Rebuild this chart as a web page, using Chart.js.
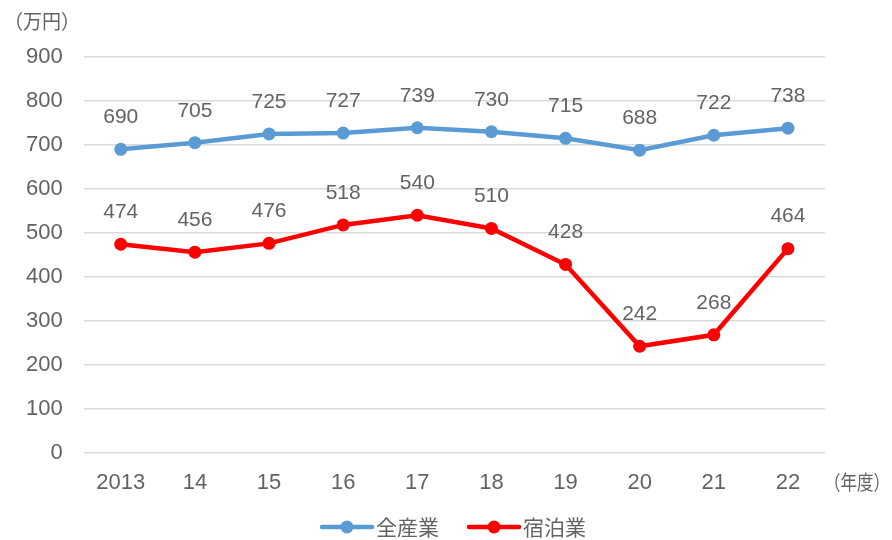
<!DOCTYPE html>
<html><head><meta charset="utf-8">
<script src="https://cdn.jsdelivr.net/npm/chart.js@4/dist/chart.umd.min.js"></script>
<style>html,body{margin:0;padding:0;background:#fff}#wrap{width:892px;height:540px}</style>
</head><body><div id="wrap"><canvas id="c" width="892" height="540"></canvas></div>
<script>
const categories = ['2013','14','15','16','17','18','19','20','21','22'];
const allIndustry = [690,705,725,727,739,730,715,688,722,738];
const lodging = [474,456,476,518,540,510,428,242,268,464];
const yTicks = [0,100,200,300,400,500,600,700,800,900];
const seriesNames = ['全産業','宿泊業'];
const colors = ['#5B9BD5','#FF0000'];
const NUMFONT = "'Liberation Sans', Arial, sans-serif";
const CJKFONT = "'Noto Sans CJK JP', sans-serif";
const TXT = '#636363';

const labelPlugin={id:'vals',afterDatasetsDraw(chart){
  const ctx=chart.ctx;ctx.save();
  ctx.font="21px "+NUMFONT;ctx.fillStyle=TXT;ctx.textAlign='center';ctx.textBaseline='middle';
  chart.data.datasets.forEach((ds,i)=>{
    chart.getDatasetMeta(i).data.forEach((pt,j)=>{
      ctx.fillText(String(ds.data[j]),pt.x,pt.y-32);
    });
  });
  // unit labels
  ctx.textAlign='left';
  ctx.font="20px "+CJKFONT;
  ctx.fillText('（万円）',4,21,76);
  ctx.fillText('（年度）',824,482,66);
  // legend
  const items=[{x:320,tx:376},{x:467,tx:523}];
  const ly=527;
  chart.data.datasets.forEach((ds,i)=>{
    const it=items[i];
    ctx.strokeStyle=ds.borderColor;ctx.lineWidth=4.5;ctx.lineCap='round';
    ctx.beginPath();ctx.moveTo(it.x+2,ly);ctx.lineTo(it.x+52,ly);ctx.stroke();
    ctx.fillStyle=ds.borderColor;ctx.beginPath();ctx.arc(it.x+27,ly,6.5,0,Math.PI*2);ctx.fill();
    ctx.fillStyle=TXT;ctx.font="21px "+CJKFONT;ctx.textAlign='left';ctx.textBaseline='middle';
    ctx.fillText(ds.label,it.tx,ly);
  });
  ctx.restore();
}};

new Chart(document.getElementById('c'),{
  type:'line',
  data:{labels:categories,datasets:[
    {label:seriesNames[0],data:allIndustry,borderColor:colors[0],backgroundColor:colors[0],borderWidth:4.5,pointRadius:6.5,pointBackgroundColor:colors[0],pointBorderWidth:0,tension:0},
    {label:seriesNames[1],data:lodging,borderColor:colors[1],backgroundColor:colors[1],borderWidth:4.5,pointRadius:6.5,pointBackgroundColor:colors[1],pointBorderWidth:0,tension:0}
  ]},
  options:{
    responsive:false,animation:false,
    layout:{padding:{left:5,right:67,top:57,bottom:35}},
    plugins:{legend:{display:false},tooltip:{enabled:false}},
    scales:{
      x:{offset:true,grid:{display:false},border:{display:false},ticks:{color:TXT,font:{size:22,family:NUMFONT},padding:9}},
      y:{min:0,max:900,afterBuildTicks(ax){ax.ticks=yTicks.map(v=>({value:v}));},
        grid:{color:'#D9D9D9',lineWidth:1.5,drawTicks:false},border:{display:false},
        ticks:{color:TXT,font:{size:22,family:NUMFONT},padding:21}}
    }
  },
  plugins:[labelPlugin]
});
</script></body></html>
